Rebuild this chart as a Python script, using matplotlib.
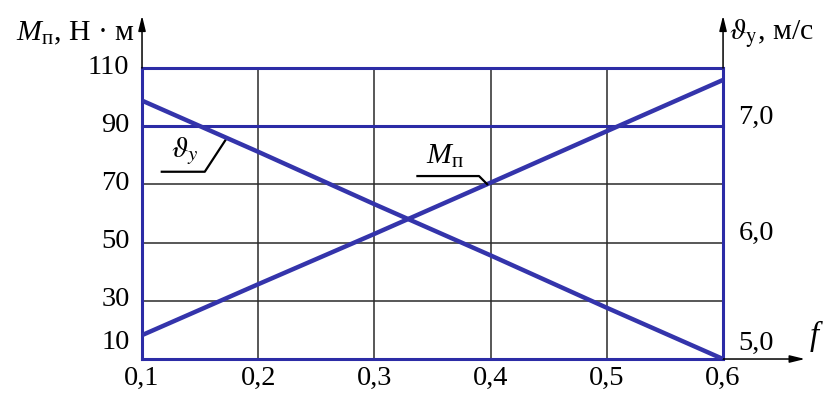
"""
Torque M_p and speed v_y versus friction coefficient f.
"""
import numpy as np
import matplotlib
matplotlib.use('Agg')
import matplotlib.pyplot as plt
from matplotlib.transforms import offset_copy

F_VALUES = [0.1, 0.2, 0.3, 0.4, 0.5, 0.6]
M_VALUES = [18.2, 35.7, 53.0, 70.6, 88.3, 105.9]     # Н·м
V_VALUES = [7.22, 6.78, 6.33, 5.89, 5.44, 5.00]      # м/с

X_TICKS = [0.1, 0.2, 0.3, 0.4, 0.5, 0.6]
X_LABELS = ['0,1', '0,2', '0,3', '0,4', '0,5', '0,6']
M_TICKS = [10, 30, 50, 70, 90, 110]
V_TICKS = [5.0, 6.0, 7.0]
V_LABELS = ['5,0', '6,0', '7,0']
M_LIM = (10, 110)
V_LIM = (5.0, 7.5)

BLUE = '#3434ab'
FRAME = '#2c2ca6'
GRID = '#2a2a2a'
FS = 20.5

plt.rcParams['font.family'] = ['Liberation Serif', 'DejaVu Serif']
plt.rcParams['mathtext.fontset'] = 'custom'
plt.rcParams['mathtext.rm'] = 'Liberation Serif'
plt.rcParams['mathtext.it'] = 'Liberation Serif:italic'


def main():
    fig = plt.figure(figsize=(8.31, 3.94), dpi=100)
    ax = fig.add_axes([0.1709, 0.0888, 0.6992, 0.7386])
    ax.set_xlim(0.1, 0.6)
    ax.set_ylim(M_LIM)

    # grid: thin black inner lines, blue at 90 and 110
    for x in X_TICKS[1:-1]:
        ax.axvline(x, color=GRID, lw=1.1, zorder=1)
    for y in M_TICKS[1:4]:
        ax.axhline(y, color=GRID, lw=1.1, zorder=1)
    for y in M_TICKS[4:]:
        ax.axhline(y, color=FRAME, lw=2.2, zorder=2, clip_on=False)

    for side in ['left', 'right', 'bottom']:
        ax.spines[side].set_color(FRAME)
        ax.spines[side].set_linewidth(2.2)
    ax.spines['top'].set_visible(False)

    ax.plot(F_VALUES, M_VALUES, color=BLUE, lw=3.2, zorder=4,
            solid_capstyle='butt')

    ax.set_xticks(X_TICKS, X_LABELS)
    ax.set_yticks(M_TICKS, [str(t) for t in M_TICKS])
    ax.tick_params(length=0, labelsize=FS, pad=5)
    ax.tick_params(axis='y', pad=9)
    for lab in ax.get_yticklabels():
        dy = 20 if lab.get_text() == '10' else 4
        lab.set_transform(offset_copy(lab.get_transform(), fig=fig,
                                      x=0, y=dy, units='dots'))

    ax2 = ax.twinx()
    ax2.set_ylim(V_LIM)
    ax2.plot(F_VALUES, V_VALUES, color=BLUE, lw=3.2, zorder=4,
             solid_capstyle='butt')
    for s in ax2.spines.values():
        s.set_visible(False)
    ax2.set_yticks(V_TICKS, V_LABELS)
    ax2.tick_params(length=0, labelsize=FS, pad=11)
    for lab in ax2.get_yticklabels():
        dy = 19 if lab.get_text() == '5,0' else 12
        lab.set_transform(offset_copy(lab.get_transform(), fig=fig,
                                      x=0, y=dy, units='dots'))

    # axis arrows
    arrow = dict(arrowstyle='-|>,head_length=0.9,head_width=0.22',
                 color='black', lw=1.1, shrinkA=0, shrinkB=0)
    ax.annotate('', xy=(0, 1.18), xytext=(0, 1), xycoords='axes fraction',
                arrowprops=arrow, annotation_clip=False)
    ax.annotate('', xy=(1, 1.18), xytext=(1, 1), xycoords='axes fraction',
                arrowprops=arrow, annotation_clip=False)
    ax.annotate('', xy=(1.141, 0), xytext=(1, 0), xycoords='axes fraction',
                arrowprops=arrow, annotation_clip=False)

    # axis titles
    ax.text(-0.012, 1.12, r'$M_{\mathrm{п}}$, Н · м', transform=ax.transAxes,
            ha='right', va='center', fontsize=FS + 1)
    ax.text(1.01, 1.12, r'$\vartheta_{\mathrm{y}}$, м/с',
            transform=ax.transAxes, ha='left', va='center', fontsize=FS + 1,
            math_fontfamily='stix')
    ax.text(1.16, 0.08, r'$f$', transform=ax.transAxes, ha='center',
            va='center', fontsize=FS + 3)

    # curve labels with leader lines
    fm = 0.397
    mm = np.interp(fm, F_VALUES, M_VALUES)
    ax.plot([fm - 0.06, fm - 0.007, fm], [mm + 2.8, mm + 2.8, mm],
            color='black', lw=1.6, zorder=5)
    ax.text(fm - 0.036, mm + 5.0, r'$M_{\mathrm{п}}$', ha='center',
            va='bottom', fontsize=FS + 1)

    fv = 0.173
    vv = np.interp(fv, F_VALUES, V_VALUES)
    mv = M_LIM[0] + (vv - V_LIM[0]) / (V_LIM[1] - V_LIM[0]) * (M_LIM[1] - M_LIM[0])
    ax.plot([0.117, 0.154, fv], [mv - 11.6, mv - 11.6, mv],
            color='black', lw=1.6, zorder=5)
    ax.text(0.137, mv - 10.0, r'$\vartheta_y$', ha='center', va='bottom',
            fontsize=FS + 1, math_fontfamily='stix')

    fig.savefig('out.png', dpi=100)
    plt.close(fig)


if __name__ == '__main__':
    main()
